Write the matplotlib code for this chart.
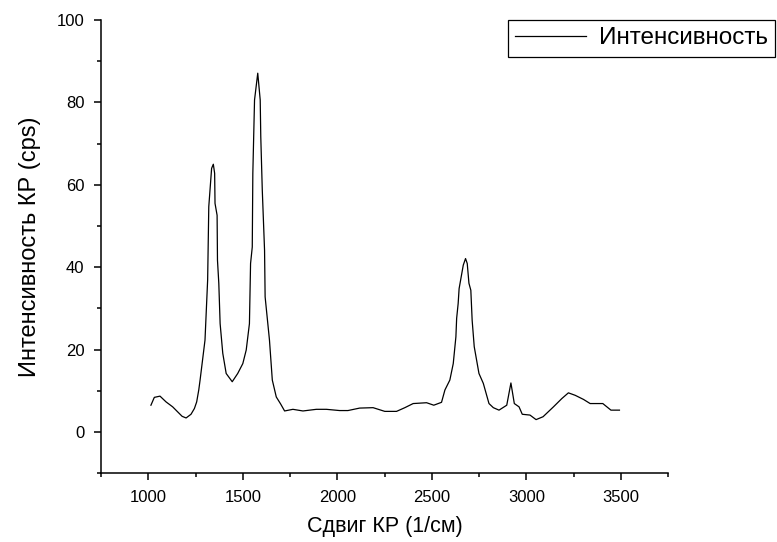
import matplotlib
matplotlib.use("Agg")
import matplotlib.pyplot as plt
from matplotlib.ticker import MultipleLocator

plt.rcParams["font.family"] = ["Liberation Sans", "DejaVu Sans"]

# Raman shift (1/cm) and intensity (cps)
shift = [
    1014, 1032, 1062, 1094, 1129, 1155, 1179, 1200, 1226, 1244, 1256, 1267, 1274,
    1300, 1314, 1320, 1335, 1344, 1351, 1353, 1364, 1366, 1373, 1380, 1394, 1412,
    1444, 1473, 1500, 1518, 1535, 1541, 1550, 1553, 1562, 1579, 1592, 1595, 1603,
    1615, 1618, 1641, 1656, 1677, 1700, 1721, 1765, 1818, 1889, 1942, 2012, 2056,
    2118, 2189, 2251, 2313, 2357, 2401, 2472, 2510, 2551, 2569, 2595, 2613, 2627,
    2631, 2639, 2644, 2666, 2678, 2687, 2696, 2706, 2713, 2724, 2749, 2772, 2802,
    2825, 2855, 2896, 2918, 2936, 2961, 2978, 3019, 3051, 3088, 3143, 3187, 3222,
    3258, 3302, 3337, 3404, 3447, 3492,
]
intensity = [
    6.5, 8.4, 8.7, 7.3, 6.1, 4.9, 3.8, 3.4, 4.3, 5.7, 7.3, 10.2, 12.6,
    22.3, 36.9, 54.7, 64.0, 65.0, 62.8, 55.5, 52.6, 41.7, 36.1, 26.3, 19.1, 14.2,
    12.2, 14.2, 16.6, 19.9, 26.3, 40.9, 44.9, 62.8, 80.6, 87.1, 80.6, 71.7, 58.7,
    44.1, 32.8, 22.3, 12.6, 8.5, 6.8, 5.1, 5.5, 5.1, 5.5, 5.5, 5.2, 5.2,
    5.8, 5.9, 5.0, 5.0, 5.9, 6.9, 7.1, 6.5, 7.2, 10.2, 12.6, 16.6, 23.1,
    27.6, 31.2, 34.8, 40.5, 42.1, 40.9, 36.1, 34.4, 27.1, 20.7, 14.2, 11.8, 6.9,
    5.9, 5.3, 6.5, 11.9, 6.9, 6.1, 4.3, 4.1, 3.0, 3.7, 6.1, 8.1, 9.5,
    8.9, 7.9, 6.9, 6.9, 5.3, 5.3,
]

fig = plt.figure(figsize=(7.77, 5.42), dpi=100)
ax = fig.add_axes([0.130, 0.127, 0.730, 0.836])

ax.plot(shift, intensity, color="black", lw=0.9, label="Интенсивность")

ax.set_xlim(750, 3750)
ax.set_ylim(-10, 100)
ax.xaxis.set_minor_locator(MultipleLocator(250))
ax.yaxis.set_minor_locator(MultipleLocator(10))
ax.set_xticks([1000, 1500, 2000, 2500, 3000, 3500])
ax.set_yticks([0, 20, 40, 60, 80, 100])

for side in ("top", "right"):
    ax.spines[side].set_visible(False)
for side in ("left", "bottom"):
    ax.spines[side].set_linewidth(1.1)

ax.tick_params(which="major", direction="out", length=5, width=1.1, labelsize=12)
ax.tick_params(axis="y", which="major", pad=7)
ax.tick_params(axis="x", which="major", pad=7)
ax.tick_params(which="minor", direction="out", length=2.8, width=1.1)

ax.set_xlabel("Сдвиг КР (1/см)", fontsize=15.5, labelpad=8)
ax.set_ylabel("Интенсивность КР (cps)", fontsize=17, labelpad=11)

leg = fig.legend(
    loc="upper left",
    bbox_to_anchor=(508 / 777, 1 - 20 / 542),
    fontsize=17.5,
    handlelength=2.9,
    handletextpad=0.55,
    borderpad=0.3,
    borderaxespad=0,
    fancybox=False,
    framealpha=1,
    edgecolor="black",
)
leg.get_frame().set_linewidth(0.9)

fig.savefig("out.png", dpi=100)
